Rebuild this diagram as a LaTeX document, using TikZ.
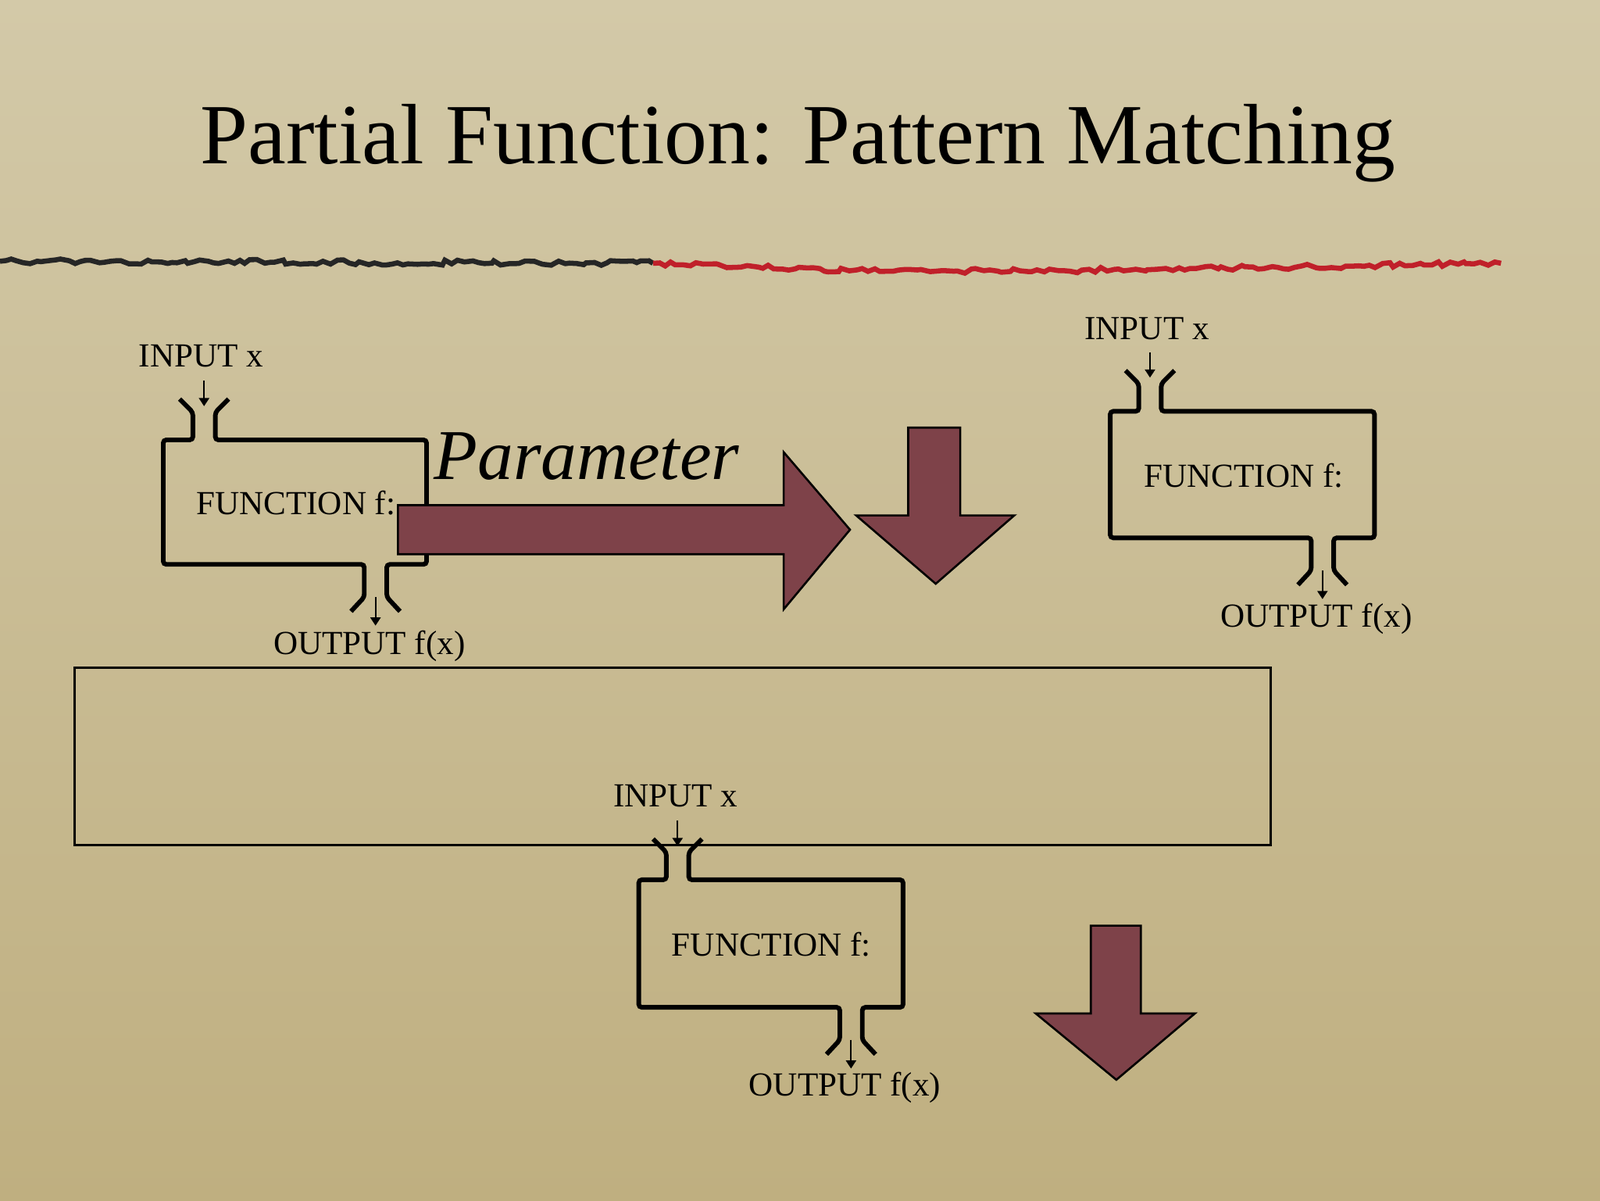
\documentclass[tikz,border=0pt]{standalone}
\usepackage{fontspec}
\setmainfont{Liberation Serif}
\usetikzlibrary{decorations.pathmorphing,arrows.meta}
\definecolor{bgtop}{HTML}{D3C9A8}
\definecolor{bgbot}{HTML}{BFAF80}
\definecolor{arr}{HTML}{7E4249}
\definecolor{brushred}{HTML}{C0202A}
\begin{document}
\begin{tikzpicture}[x=1pt,y=-1pt,
  lbl/.style={font=\fontsize{33}{33}\selectfont},
  fbox/.style={line width=4.5pt,rounded corners=3pt},
  big/.style={fill=arr,draw=black,line width=2pt,line join=miter},
  tiny/.style={line width=1.6pt,-{Triangle[width=10pt,length=8pt]}}]
\shade[top color=bgtop,bottom color=bgbot] (0,0) rectangle (1568,1176);
\useasboundingbox (0,0) rectangle (1568,1176);
\node[font=\fontsize{84}{84}\selectfont] (title) at (782,140) {Partial Function: Pattern Matching};
\draw[decorate,decoration={random steps,segment length=6pt,amplitude=2.5pt},line width=5pt,black!85] (0,256) -- (640,258);
\draw[decorate,decoration={random steps,segment length=6pt,amplitude=2.5pt},line width=5pt,brushred] (640,258) .. controls (900,268) .. (1470,258);
% function boxes: #1 left, #2 top, #3 right, #4 bottom, #5 input x, #6 output x
\newcommand\fbx[7]{%
  \draw[fbox] (#5-24,#2-40) -- (#5-11,#2-27) -- (#5-11,#2) -- (#1,#2) -- (#1,#4) -- (#6-11,#4) -- (#6-11,#4+32) -- (#6-24,#4+46);
  \draw[fbox] (#5+24,#2-40) -- (#5+11,#2-27) -- (#5+11,#2) -- (#3,#2) -- (#3,#4) -- (#6+11,#4) -- (#6+11,#4+32) -- (#6+24,#4+46);
  \coordinate (#7i) at (#5,#2-58); \coordinate (#7ie) at (#5,#2-33);
  \coordinate (#7o) at (#6,#4+32); \coordinate (#7oe) at (#6,#4+60);
  \draw[tiny] (#7i) -- (#7ie);
  \draw[tiny] (#7o) -- (#7oe);
}
\fbx{160}{431}{418}{553}{200}{368}{a}
\fbx{1088}{403}{1347}{527}{1127}{1296}{b}
\fbx{626}{862}{885}{987}{664}{834}{c}
\node[lbl] (ain) at (197,349) {INPUT x};
\node[lbl] (af) at (290,493) {FUNCTION f:};
\node[lbl] (aout) at (362,633) {OUTPUT f(x)};
\node[lbl] (bin) at (1124,322) {INPUT x};
\node[lbl] (bf) at (1219,466) {FUNCTION f:};
\node[lbl] (bout) at (1290,606) {OUTPUT f(x)};
\node[lbl] (cin) at (662,780) {INPUT x};
\node[lbl] (cf) at (756,925) {FUNCTION f:};
\node[lbl] (cout) at (828,1066) {OUTPUT f(x)};
\node[draw=black,line width=2.2pt,minimum width=1172pt,minimum height=174pt,inner sep=0pt] (frame) at (659,741) {};
\draw[big] (390,495) -- (768,495) -- (768,443) -- (833,519) -- (768,597) -- (768,543) -- (390,543) -- cycle;
\node[font=\fontsize{70}{70}\selectfont\itshape] (param) at (575,447) {Parameter};
\draw[big] (890,419) -- (941,419) -- (941,505) -- (994,505) -- (917,572) -- (839,505) -- (890,505) -- cycle;
\draw[big] (1069,907) -- (1118,907) -- (1118,993) -- (1171,993) -- (1094,1058) -- (1015,993) -- (1069,993) -- cycle;
\end{tikzpicture}
\end{document}
